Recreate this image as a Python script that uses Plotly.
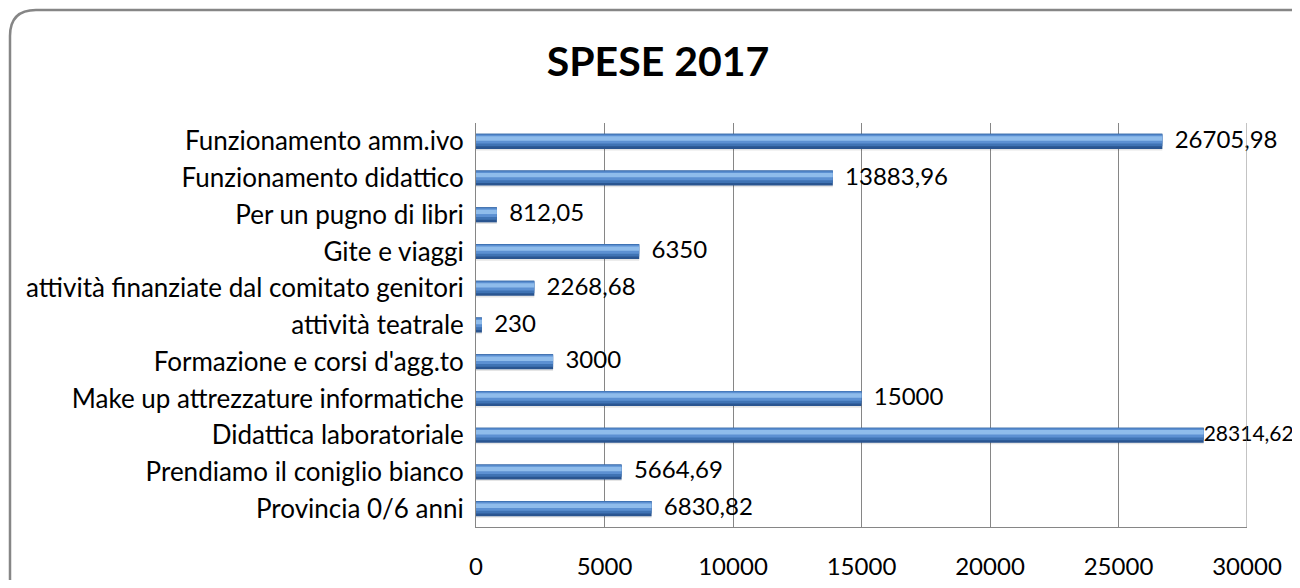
import plotly.graph_objects as go

categories = [
    "Funzionamento amm.ivo",
    "Funzionamento didattico",
    "Per un pugno di libri",
    "Gite e viaggi",
    "attività finanziate dal comitato genitori",
    "attività teatrale",
    "Formazione e corsi d'agg.to",
    "Make up attrezzature informatiche",
    "Didattica laboratoriale",
    "Prendiamo il coniglio bianco",
    "Provincia 0/6 anni",
]
values = [26705.98, 13883.96, 812.05, 6350, 2268.68, 230, 3000, 15000, 28314.62, 5664.69, 6830.82]
x_ticks = [0, 5000, 10000, 15000, 20000, 25000, 30000]
X_MAX = 30000


def fmt(v):
    s = str(int(v)) if float(v).is_integer() else ("%.2f" % v).replace(".", ",")
    # labels near the right edge sit tight against the bar end (as in the original)
    return s if v > 0.93 * X_MAX else "\u00a0\u00a0" + s


labels = [fmt(v) for v in values]
label_sizes = [21 if v > 0.93 * X_MAX else 24 for v in values]

# the page body has an 8px margin on every side; work in page pixels and shift
OFF = 8
W, H = 1300 - 2 * OFF, 588 - 2 * OFF
L, R, T, B = 476 - OFF, 1247 - OFF, 123 - OFF, 527 - OFF
FONT = "Lato"

fig = go.Figure()

layers = [
    # (offset, width, color)
    (-0.19, 0.44, "rgba(0,0,0,0.10)"),
    (-0.205, 0.41, "#2A5590"),
    (-0.205, 0.34, "#3F73B4"),
    (-0.18, 0.24, "#5C90D2"),
    (-0.14, 0.12, "#8FBCEB"),
]
for i, (off, wd, col) in enumerate(layers):
    last = i == len(layers) - 1
    fig.add_trace(go.Bar(
        y=categories, x=values, orientation="h", width=wd, offset=off,
        marker=dict(color=col, line=dict(width=0)),
        text=labels if last else None,
        textposition="outside" if last else "none",
        constraintext="none", textangle=0, cliponaxis=False,
        textfont=dict(family=FONT, size=label_sizes, color="#000000"),
        hoverinfo="skip", showlegend=False))


def px2paper(x, y):
    x -= OFF
    y -= OFF
    return (x - L) / (R - L), (B - y) / (B - T)


def rr_path(x0, y0, x1, y1, r):
    def p(x, y):
        a, b = px2paper(x, y)
        return f"{a:.5f},{b:.5f}"
    d = f"M {p(x0 + r, y0)} L {p(x1 - r, y0)} Q {p(x1, y0)} {p(x1, y0 + r)} "
    d += f"L {p(x1, y1 - r)} Q {p(x1, y1)} {p(x1 - r, y1)} "
    d += f"L {p(x0 + r, y1)} Q {p(x0, y1)} {p(x0, y1 - r)} "
    d += f"L {p(x0, y0 + r)} Q {p(x0, y0)} {p(x0 + r, y0)} Z"
    return d


fig.update_layout(
    width=W, height=H,
    margin=dict(l=L, r=W - R, t=T, b=H - B, pad=0, autoexpand=False),
    paper_bgcolor="white", plot_bgcolor="white",
    barmode="overlay",
    title=dict(text="<b>SPESE 2017</b>", x=(658 - OFF) / W, xanchor="center",
               y=1 - (62 - OFF) / H, yanchor="middle",
               font=dict(family=FONT, size=41, color="#000000")),
    xaxis=dict(range=[0, X_MAX], tickvals=x_ticks, ticktext=[str(v) for v in x_ticks],
               showgrid=True, gridcolor="#868686", gridwidth=1,
               showline=True, linecolor="#868686", linewidth=1, mirror=False,
               zeroline=False, ticks="", ticklabelstandoff=18, automargin=False,
               tickfont=dict(family=FONT, size=24, color="#000000"), fixedrange=True),
    yaxis=dict(autorange="reversed", showgrid=False, showline=True, linecolor="#868686", linewidth=1,
               ticks="", ticklabelstandoff=6, automargin=False,
               tickfont=dict(family=FONT, size=26, color="#000000"), fixedrange=True),
    shapes=[dict(type="path", xref="paper", yref="paper", path=rr_path(10, 10, 1316, 604, 26),
                 line=dict(color="#868686", width=2.5), fillcolor="rgba(0,0,0,0)", layer="below"),
            dict(type="line", xref="x", yref="paper", x0=X_MAX, x1=X_MAX, y0=0, y1=1,
                 line=dict(color="#868686", width=1))],
    font=dict(family=FONT),
)

fig.write_html("out.html")
